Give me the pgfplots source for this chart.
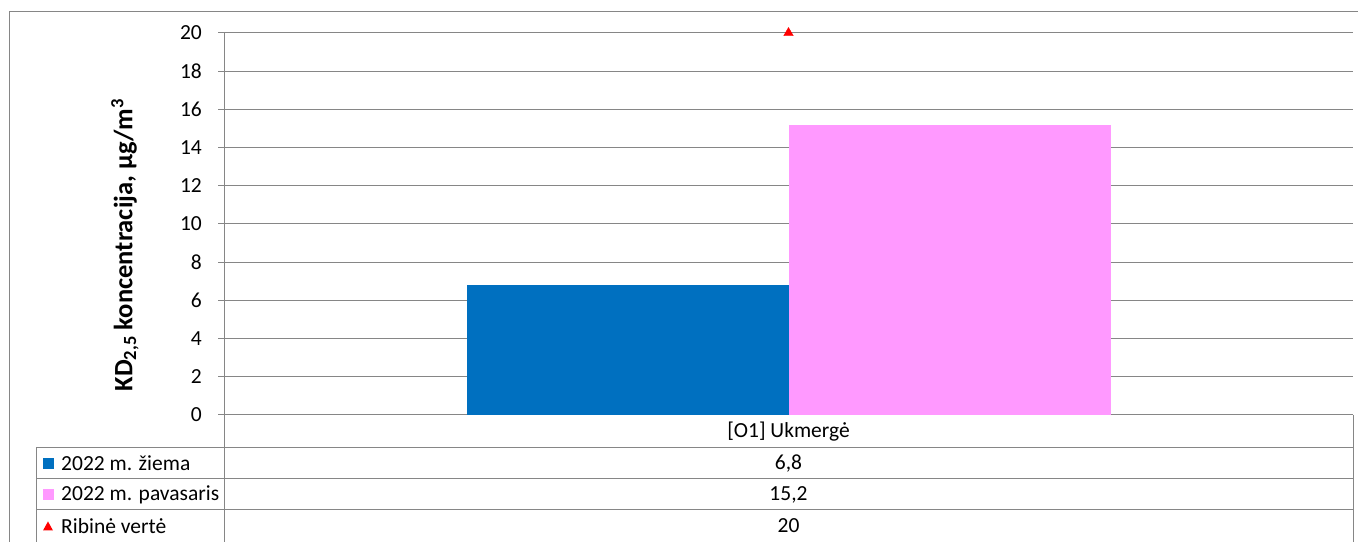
\documentclass[border=0pt]{standalone}
\usepackage{fontspec}
\setmainfont{Carlito}
\usepackage{pgfplots}
\pgfplotsset{compat=1.18}

\definecolor{gridgray}{RGB}{134,134,134}
\definecolor{ziema}{RGB}{0,112,192}
\definecolor{pavasaris}{RGB}{255,153,255}

\newcommand{\tfont}{\fontsize{21.5bp}{25bp}\selectfont}

\begin{document}
\begin{tikzpicture}[x=1bp,y=1bp]
\path[use as bounding box] (0,0) rectangle (1359,542);

% outer chart frame
\draw[gridgray, line width=1bp] (9,-5) -- (9,530) -- (1358,530);

\begin{axis}[
    at={(224bp,127bp)}, anchor=south west,
    width=1129bp, height=382bp, scale only axis,
    xmin=-1, xmax=1, ymin=0, ymax=20,
    ytick={0,2,...,20}, xtick=\empty,
    axis x line=bottom, axis y line=left,
    axis line style={draw=gridgray, line width=1bp, -},
    ymajorgrids, grid style={draw=gridgray, line width=1bp},
    tick align=outside, major tick length=6bp,
    ytick style={draw=gridgray, line width=1bp},
    yticklabel style={font=\tfont, anchor=east, inner sep=0pt, xshift=-16bp},
    /pgf/number format/assume math mode=true,
    clip=false,
]
\addplot[ybar, bar width=322bp, bar shift=-161bp, fill=ziema, draw=none]
    coordinates {(0,6.8)};
\addplot[ybar, bar width=322bp, bar shift=161bp, fill=pavasaris, draw=none]
    coordinates {(0,15.2)};
\addplot[only marks, mark=triangle*, mark size=5.5bp, color=red]
    coordinates {(0,20)};
\end{axis}

% y label
\node[rotate=90, font=\bfseries\fontsize{26.5bp}{30bp}\selectfont] at (125,297)
    {KD\textsubscript{2,5} koncentracija, µg/m\textsuperscript{3}};

% data table
\begin{scope}[gridgray, line width=1bp]
  \draw (224,127) -- (224,-5);
  \draw (1353,127) -- (1353,-5);
  \draw (36,94) -- (1353,94);
  \draw (36,63) -- (1353,63);
  \draw (36,32) -- (1353,32);
  \draw (36,94) -- (36,-5);
\end{scope}
\node[font=\tfont] at (788.5,110.5) {[O1] Ukmergė};
\node[font=\tfont] at (788.5,78.5) {6,8};
\node[font=\tfont] at (788.5,47.5) {15,2};
\node[font=\tfont] at (788.5,16) {20};
\fill[ziema] (43,73) rectangle (54,84);
\fill[pavasaris] (43,42) rectangle (54,53);
\fill[red] (43,11.5) -- (53,11.5) -- (48,20.5) -- cycle;
\node[font=\tfont, anchor=west, inner sep=0pt] at (61,78.5) {2022 m. žiema};
\node[font=\tfont, anchor=west, inner sep=0pt] at (61,47.5) {2022 m. pavasaris};
\node[font=\tfont, anchor=west, inner sep=0pt] at (61,16) {Ribinė vertė};
\end{tikzpicture}
\end{document}
